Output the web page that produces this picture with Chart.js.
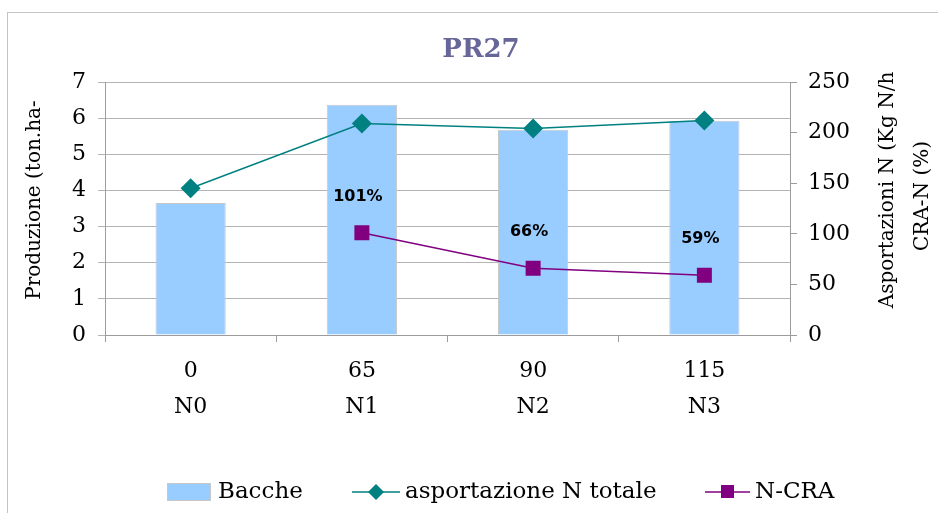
<!DOCTYPE html>
<html>
<head>
<meta charset="utf-8">
<script src="https://cdn.jsdelivr.net/npm/chart.js@4"></script>
<style>
  body { margin: 0; background: #fff; }
</style>
</head>
<body>
<canvas id="myChart" width="938" height="513"></canvas>
<script>
const categories = [["0", "N0"], ["65", "N1"], ["90", "N2"], ["115", "N3"]];
const bacche = [3.65, 6.37, 5.68, 5.93];
const asportazione = [145, 209, 204, 212];
const ncra = [null, 101, 66, 59];
const seriesNames = ["Bacche", "asportazione N totale", "N-CRA"];

const serif = "'DejaVu Serif', serif";
const gridGray = "#b4b4b4";
const axisGray = "#9c9c9c";

const drawChart = () => {
  const ctx = document.getElementById("myChart").getContext("2d");

  const extras = {
    id: "extras",
    beforeDraw: (chart) => {
      const c = chart.ctx;
      c.save();
      c.strokeStyle = "#c4c4c4";
      c.lineWidth = 1;
      c.strokeRect(7.5, 12.5, 1200, 1200);
      c.restore();
    },
    afterDraw: (chart) => {
      const c = chart.ctx;
      c.save();

      // title
      c.fillStyle = "#666699";
      c.font = "bold 26px " + serif;
      c.textAlign = "center";
      c.textBaseline = "middle";
      c.fillText("PR27", 481, 50);

      // axis titles (rotated, reading bottom to top)
      c.fillStyle = "#000";
      c.font = "20px " + serif;
      c.save();
      c.translate(35, 200);
      c.rotate(-Math.PI / 2);
      c.fillText("Produzione (ton.ha-", 0, 0);
      c.restore();

      c.save();
      c.translate(888, 190);
      c.rotate(-Math.PI / 2);
      c.fillText("Asportazioni N (Kg N/h", 0, 0);
      c.restore();
      c.save();
      c.translate(923, 196);
      c.rotate(-Math.PI / 2);
      c.fillText("CRA-N (%)", 0, 0);
      c.restore();

      // data labels on N-CRA
      const meta = chart.getDatasetMeta(2);
      c.font = "bold 16px 'DejaVu Sans', sans-serif";
      c.textAlign = "center";
      meta.data.forEach((pt, i) => {
        if (ncra[i] == null) return;
        c.fillText(ncra[i] + "%", pt.x - 4, pt.y - 36);
      });

      // legend
      const ly = 492;
      c.textAlign = "left";
      c.font = "23px " + serif;
      c.fillStyle = "#99ccff";
      c.fillRect(167, 483, 43, 17);
      c.strokeStyle = "#c8c8c8";
      c.strokeRect(167.5, 483.5, 43, 17);
      c.fillStyle = "#000";
      c.fillText(seriesNames[0], 218, ly);

      c.strokeStyle = "#008080";
      c.lineWidth = 1.5;
      c.beginPath();
      c.moveTo(352, ly);
      c.lineTo(400, ly);
      c.stroke();
      c.fillStyle = "#008080";
      c.beginPath();
      c.moveTo(376, ly - 8);
      c.lineTo(384, ly);
      c.lineTo(376, ly + 8);
      c.lineTo(368, ly);
      c.closePath();
      c.fill();
      c.fillStyle = "#000";
      c.fillText(seriesNames[1], 405, ly);

      c.strokeStyle = "#800080";
      c.beginPath();
      c.moveTo(705, ly);
      c.lineTo(750, ly);
      c.stroke();
      c.fillStyle = "#800080";
      c.fillRect(721, ly - 7, 13, 13);
      c.fillStyle = "#000";
      c.fillText(seriesNames[2], 755, ly);

      c.restore();
    },
  };

  const config = {
    data: {
      labels: categories,
      datasets: [
        {
          type: "bar",
          label: seriesNames[0],
          data: bacche,
          yAxisID: "y",
          backgroundColor: "#99ccff",
          borderColor: "#c8c8c8",
          borderWidth: 1,
          barPercentage: 0.41,
          categoryPercentage: 1,
          order: 3,
        },
        {
          type: "line",
          label: seriesNames[1],
          data: asportazione,
          yAxisID: "y1",
          borderColor: "#008080",
          borderWidth: 1.5,
          pointStyle: "rectRot",
          pointRadius: 10,
          pointBackgroundColor: "#008080",
          pointBorderWidth: 0,
          tension: 0,
          order: 2,
        },
        {
          type: "line",
          label: seriesNames[2],
          data: ncra,
          yAxisID: "y1",
          borderColor: "#800080",
          borderWidth: 1.5,
          pointStyle: "rect",
          pointRadius: 10.6,
          pointBackgroundColor: "#800080",
          pointBorderWidth: 0,
          tension: 0,
          order: 1,
        },
      ],
    },
    options: {
      responsive: false,
      animation: false,
      events: [],
      layout: { padding: { left: 0, right: 0, top: 82, bottom: 98 } },
      plugins: {
        legend: { display: false },
        tooltip: { enabled: false },
      },
      scales: {
        x: {
          offset: true,
          grid: {
            offset: true,
            drawOnChartArea: false,
            tickLength: 7,
            color: axisGray,
          },
          border: { color: axisGray },
          ticks: {
            color: "#000",
            font: { family: serif, size: 22, lineHeight: 1.6 },
            padding: 12,
            maxRotation: 0,
          },
          afterFit: (s) => {
            s.height = 80;
          },
        },
        y: {
          position: "left",
          min: 0,
          max: 7,
          ticks: {
            stepSize: 1,
            color: "#000",
            font: { family: serif, size: 22 },
            padding: 12,
          },
          grid: { color: gridGray, tickLength: 7 },
          border: { color: axisGray },
          afterFit: (s) => {
            s.width = 105;
          },
        },
        y1: {
          position: "right",
          min: 0,
          max: 250,
          ticks: {
            stepSize: 50,
            color: "#000",
            font: { family: serif, size: 22 },
            padding: 11,
          },
          grid: { drawOnChartArea: false, color: axisGray, tickLength: 7 },
          border: { color: axisGray },
          afterFit: (s) => {
            s.width = 148;
          },
        },
      },
    },
    plugins: [extras],
  };

  new Chart(ctx, config);
};

drawChart();
</script>
</body>
</html>
